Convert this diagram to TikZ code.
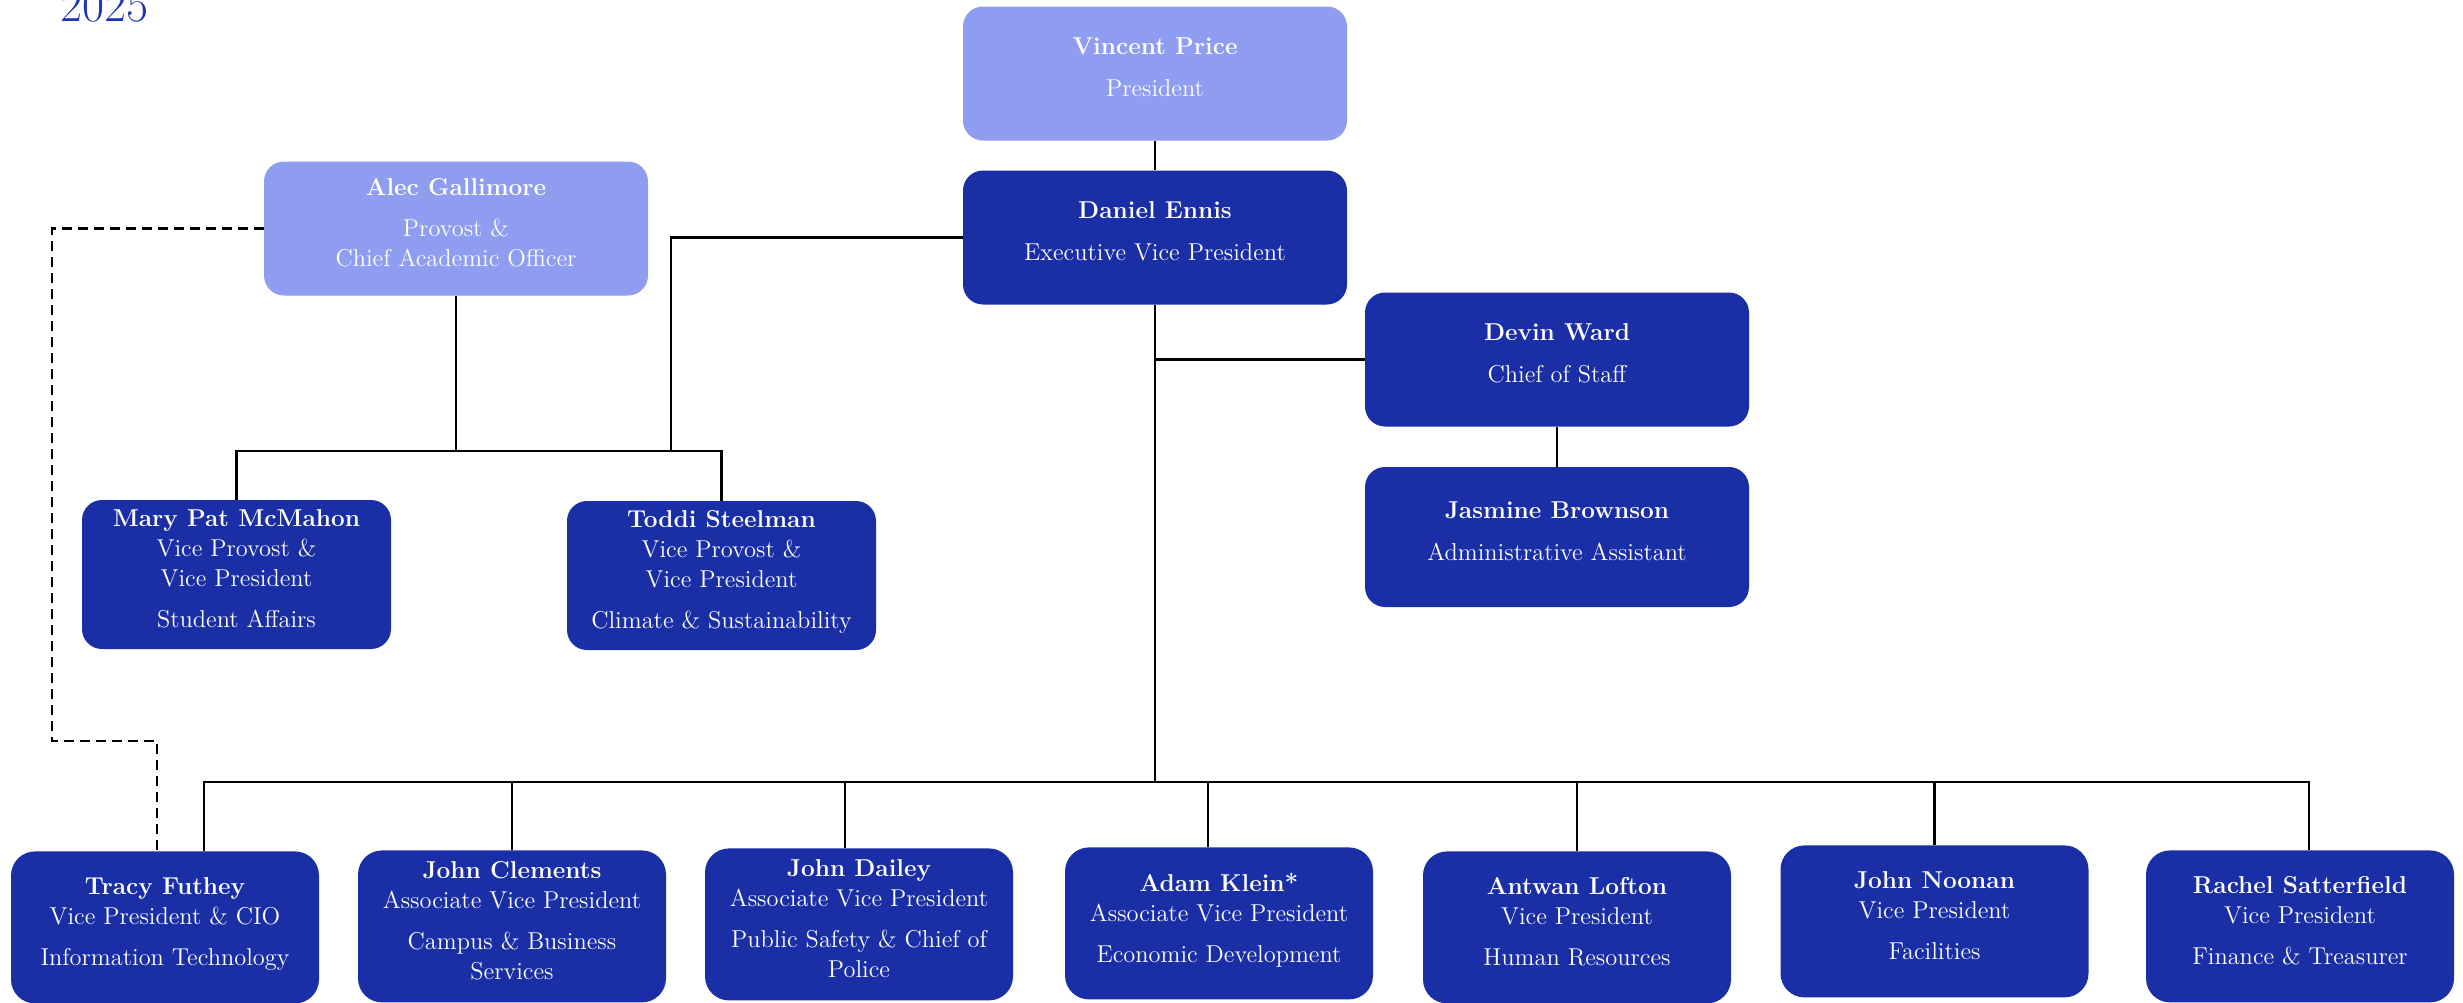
\documentclass[tikz,border=0pt]{standalone}
\usepackage{tikz}
\usetikzlibrary{positioning}        % placement of nodes

\definecolor{orgdark}{HTML}{1A2EA6}
\definecolor{orglight}{HTML}{8E9DEF}
\definecolor{yearblue}{HTML}{1F34B4}

\begin{document}
\begin{tikzpicture}[x=0.5pt, y=-0.5pt,
        box/.style={rounded corners=10pt, fill=orgdark, text=white, align=center,
                    inner sep=2pt, text depth=6pt, font=\fontsize{12.2}{15}\selectfont},
        lightbox/.style={box, fill=orglight},
        topbox/.style={box, minimum width=192pt, minimum height=67pt},
        midbox/.style={box, minimum width=154.5pt, minimum height=74.5pt},
        botbox/.style={box, anchor=north, minimum width=154pt, minimum height=76pt, rounded corners=12pt},
        link/.style={black, line width=1.3pt},
        dottedlink/.style={black, line width=1.2pt, dash pattern=on 5pt off 3pt}]
        \useasboundingbox (0,0) rectangle (2463,1002);

        \node[anchor=base west, text=yearblue, font=\fontsize{24}{28}\selectfont] (year) at (53,21) {2025};

        \node[topbox, lightbox] (price) at (1155,73.5) {\textbf{Vincent Price}\\[6pt] President};
        \node[topbox] (ennis) at (1155,237.5) {\textbf{Daniel Ennis}\\[6pt] Executive Vice President};
        \node[topbox, lightbox] (gallimore) at (456,228.5) {\textbf{Alec Gallimore}\\[5.5pt] Provost \&\\ Chief Academic Officer};
        \node[topbox] (ward) at (1557,359.5) {\textbf{Devin Ward}\\[6pt] Chief of Staff};
        \node[topbox, minimum height=70pt] (brownson) at (1557,537) {\textbf{Jasmine Brownson}\\[6pt] Administrative Assistant};

        \node[midbox] (mcmahon) at (236.5,574.5) {\textbf{Mary Pat McMahon}\\ Vice Provost \&\\ Vice President\\[5.5pt] Student Affairs};
        \node[midbox] (steelman) at (721.5,575.5) {\textbf{Toddi Steelman}\\ Vice Provost \&\\ Vice President\\[5.5pt] Climate \& Sustainability};

        \node[botbox] (futhey) at (165,851) {\textbf{Tracy Futhey}\\ Vice President \& CIO\\[5.5pt] Information Technology};
        \node[botbox] (clements) at (512,850) {\textbf{John Clements}\\ Associate Vice President\\[5.5pt] Campus \& Business\\ Services};
        \node[botbox] (dailey) at (859,848) {\textbf{John Dailey}\\ Associate Vice President\\[5.5pt] Public Safety \& Chief of\\ Police};
        \node[botbox] (klein) at (1219,847) {\textbf{Adam Klein*}\\ Associate Vice President\\[5.5pt] Economic Development};
        \node[botbox] (lofton) at (1577,851) {\textbf{Antwan Lofton}\\ Vice President\\[5.5pt] Human Resources};
        \node[botbox] (noonan) at (1934.5,845) {\textbf{John Noonan}\\ Vice President\\[5.5pt] Facilities};
        \node[botbox] (satterfield) at (2300,850) {\textbf{Rachel Satterfield}\\ Vice President\\[5.5pt] Finance \& Treasurer};

        \coordinate (acadjoin) at (671,451);
        \coordinate (evpjoin) at (1155,782);
        \coordinate (dashcorner) at (52,741);

        \draw[link] (price) -- (ennis);
        \draw[link] (ennis.west) -| (acadjoin);
        \draw[link] (gallimore.south) -- (gallimore.south |- acadjoin);
        \draw[link] (mcmahon.north) |- (acadjoin) -| (steelman.north);
        \draw[link] (ward.west) -- (ward.west -| ennis.south);
        \draw[link] (ward.south) -- (brownson.north);
        \draw[link] (ennis.south) -- (evpjoin);

        \draw[link] ([xshift=19.5pt]futhey.north) |- (evpjoin) -| ([xshift=4.5pt]satterfield.north);
        \draw[link] (clements.north) -- (clements.north |- evpjoin);
        \draw[link] ([xshift=-7pt]dailey.north) -- ([xshift=-7pt]dailey.north |- evpjoin);
        \draw[link] ([xshift=-5.5pt]klein.north) -- ([xshift=-5.5pt]klein.north |- evpjoin);
        \draw[link] (lofton.north) -- (lofton.north |- evpjoin);
        \draw[link] (noonan.north) -- (noonan.north |- evpjoin);

        \draw[dottedlink] (gallimore.west) -| (dashcorner) -| ([xshift=-4pt]futhey.north);
\end{tikzpicture}
\end{document}
